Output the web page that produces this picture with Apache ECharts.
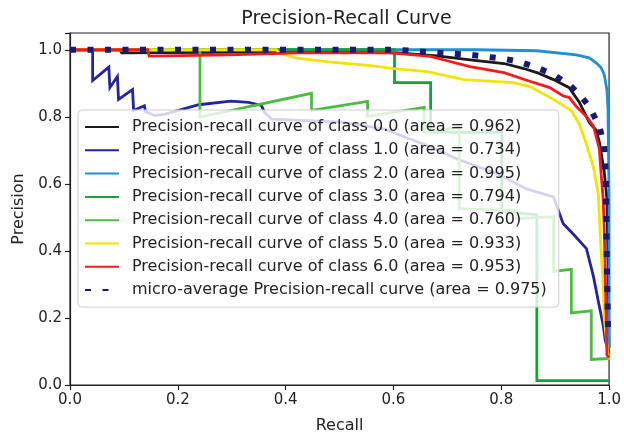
<!DOCTYPE html>
<html><head><meta charset="utf-8">
<script src="https://cdn.jsdelivr.net/npm/echarts@6/dist/echarts.min.js"></script>
<style>html,body{margin:0;padding:0;background:#fff}#c{width:624px;height:439px}</style>
</head><body><div id="c"></div>
<script>
// ---- Data (recall, precision) per curve ----
const seriesNames = [
  'Precision-recall curve of class 0.0 (area = 0.962)',
  'Precision-recall curve of class 1.0 (area = 0.734)',
  'Precision-recall curve of class 2.0 (area = 0.995)',
  'Precision-recall curve of class 3.0 (area = 0.794)',
  'Precision-recall curve of class 4.0 (area = 0.760)',
  'Precision-recall curve of class 5.0 (area = 0.933)',
  'Precision-recall curve of class 6.0 (area = 0.953)',
  'micro-average Precision-recall curve (area = 0.975)'
];
const xTicks = [0.0, 0.2, 0.4, 0.6, 0.8, 1.0];
const yTicks = [0.0, 0.2, 0.4, 0.6, 0.8, 1.0];

const recall0 = [0,0.092,0.096,0.424,0.608,0.681,0.742,0.805,0.842,0.866,0.897,0.926,0.945,0.963,0.976,0.982,0.991,0.996,0.998,1.0];
const precision0 = [1,1,0.991,0.994,0.991,0.982,0.970,0.959,0.944,0.932,0.911,0.887,0.843,0.784,0.760,0.724,0.636,0.556,0.378,0.111];

const recall1 = [0,0.042,0.042,0.072,0.074,0.088,0.090,0.116,0.118,0.138,0.140,0.157,0.175,0.239,0.298,0.331,0.355,0.361,0.374,0.503,0.584,0.669,0.718,0.792,0.847,0.897,0.908,0.915,0.936,0.958,0.971,0.980,0.989,0.993,1.0];
const precision1 = [1,1,0.908,0.948,0.887,0.920,0.852,0.881,0.819,0.833,0.816,0.804,0.807,0.836,0.847,0.843,0.834,0.813,0.793,0.784,0.763,0.710,0.674,0.630,0.585,0.561,0.511,0.481,0.446,0.407,0.324,0.250,0.179,0.132,0.096];

const recall2 = [0,0.755,0.866,0.939,0.963,0.976,0.985,0.991,0.996,0.998,1.0,1.0];
const precision2 = [1,1,0.997,0.985,0.976,0.961,0.947,0.926,0.881,0.822,0.556,0.111];

const recall3 = [0,0.602,0.602,0.669,0.669,0.801,0.801,0.866,0.866,1.0];
const precision3 = [1,1,0.902,0.902,0.754,0.754,0.517,0.508,0.013,0.013];

const recall4 = [0,0.241,0.241,0.448,0.448,0.552,0.552,0.657,0.657,0.722,0.722,0.829,0.829,0.897,0.897,0.930,0.930,0.967,0.967,1.0];
const precision4 = [1,1,0.799,0.870,0.819,0.846,0.801,0.828,0.754,0.769,0.526,0.520,0.496,0.502,0.339,0.345,0.215,0.221,0.076,0.079];

const recall5 = [0,0.383,0.387,0.418,0.479,0.558,0.602,0.663,0.731,0.823,0.853,0.897,0.930,0.945,0.958,0.971,0.980,0.985,0.989,0.991,0.998,1.0];
const precision5 = [1,1,0.991,0.976,0.964,0.953,0.944,0.935,0.911,0.902,0.890,0.852,0.819,0.778,0.719,0.650,0.570,0.407,0.304,0.200,0.090,0.076];

const recall6 = [0,0.144,0.147,0.295,0.424,0.595,0.669,0.705,0.742,0.805,0.853,0.890,0.915,0.926,0.939,0.958,0.971,0.982,0.985,0.989,0.991,0.994,0.996,1.0];
const precision6 = [1,1,0.981,0.985,0.991,0.991,0.980,0.965,0.950,0.932,0.906,0.887,0.862,0.858,0.831,0.801,0.772,0.704,0.636,0.556,0.467,0.259,0.090,0.081];

const recallMicro = [0,0.608,0.681,0.742,0.805,0.834,0.866,0.897,0.926,0.945,0.963,0.982,0.991,0.994,0.996,0.998,1.0];
const precisionMicro = [1,1,0.991,0.985,0.973,0.964,0.947,0.926,0.896,0.867,0.831,0.772,0.713,0.624,0.357,0.170,0.141];

const colors = ['#1a1a1a','#25259a','#1f8fd6','#14a03c','#4cbc40','#f0e400','#ee1c1c','#1a1a70'];

// ---- Build chart ----
const curves = [
  [recall0, precision0],[recall1, precision1],[recall2, precision2],[recall3, precision3],
  [recall4, precision4],[recall5, precision5],[recall6, precision6],[recallMicro, precisionMicro]
];
const FONT = 'DejaVu Sans';
const series = curves.map((c, i) => ({
  name: seriesNames[i],
  type: 'line',
  data: c[0].map((r, k) => [r, c[1][k]]),
  symbol: 'none',
  showSymbol: false,
  clip: true,
  silent: true,
  lineStyle: i === 7
    ? {color: colors[i], width: 6, type: [6, 11.5], cap: 'butt'}
    : {color: colors[i], width: 2.8, join: 'miter'},
  itemStyle: {color: colors[i]},
  z: 2 + i * 0.01
}));

const chart = echarts.init(document.getElementById('c'), null, {renderer: 'canvas'});
chart.setOption({
  animation: false,
  backgroundColor: '#ffffff',
  title: {
    text: 'Precision-Recall Curve',
    left: 341.5, top: 5, textAlign: 'center',
    textStyle: {fontFamily: FONT, fontSize: 19, fontWeight: 'normal', color: '#222'}
  },
  grid: {left: 70, right: 11, top: 33, bottom: 51.5, show: true, borderColor: '#222', borderWidth: 1.2, backgroundColor: 'transparent'},
  xAxis: {
    type: 'value', min: 0, max: 1, interval: 0.2,
    name: 'Recall', nameLocation: 'middle', nameGap: 33,
    nameTextStyle: {fontFamily: FONT, fontSize: 16, color: '#222'},
    axisLine: {show: true, lineStyle: {color: '#222', width: 1.2}},
    axisTick: {show: true, length: 5, lineStyle: {color: '#222', width: 1.2}},
    axisLabel: {fontFamily: FONT, fontSize: 15, color: '#222', margin: 8,
      formatter: v => xTicks.some(t => Math.abs(t - v) < 1e-6) ? v.toFixed(1) : ''},
    splitLine: {show: false}
  },
  yAxis: {
    type: 'value', min: 0, max: 1.05, interval: 0.2,
    name: 'Precision', nameLocation: 'middle', nameGap: 43, nameRotate: 90,
    nameTextStyle: {fontFamily: FONT, fontSize: 16, color: '#222'},
    axisLine: {show: true, lineStyle: {color: '#222', width: 1.2}},
    axisTick: {show: true, length: 5, lineStyle: {color: '#222', width: 1.2}},
    axisLabel: {fontFamily: FONT, fontSize: 15, color: '#222', margin: 8,
      formatter: v => yTicks.some(t => Math.abs(t - v) < 1e-6) ? v.toFixed(1) : ''},
    splitLine: {show: false}
  },
  legend: {
    orient: 'vertical', left: 78, top: 110,
    padding: [8, 12, 8, 6],
    itemWidth: 34, itemHeight: 12, itemGap: 5.3,
    itemStyle: {opacity: 0},
    backgroundColor: 'rgba(255,255,255,0.8)',
    borderColor: '#cccccc', borderWidth: 1, borderRadius: 4,
    textStyle: {fontFamily: FONT, fontSize: 16, color: '#222', lineHeight: 18, padding: [0, 0, 0, 8]},
    data: seriesNames,
    selectedMode: false
  },
  series: series
});
</script>
</body></html>
